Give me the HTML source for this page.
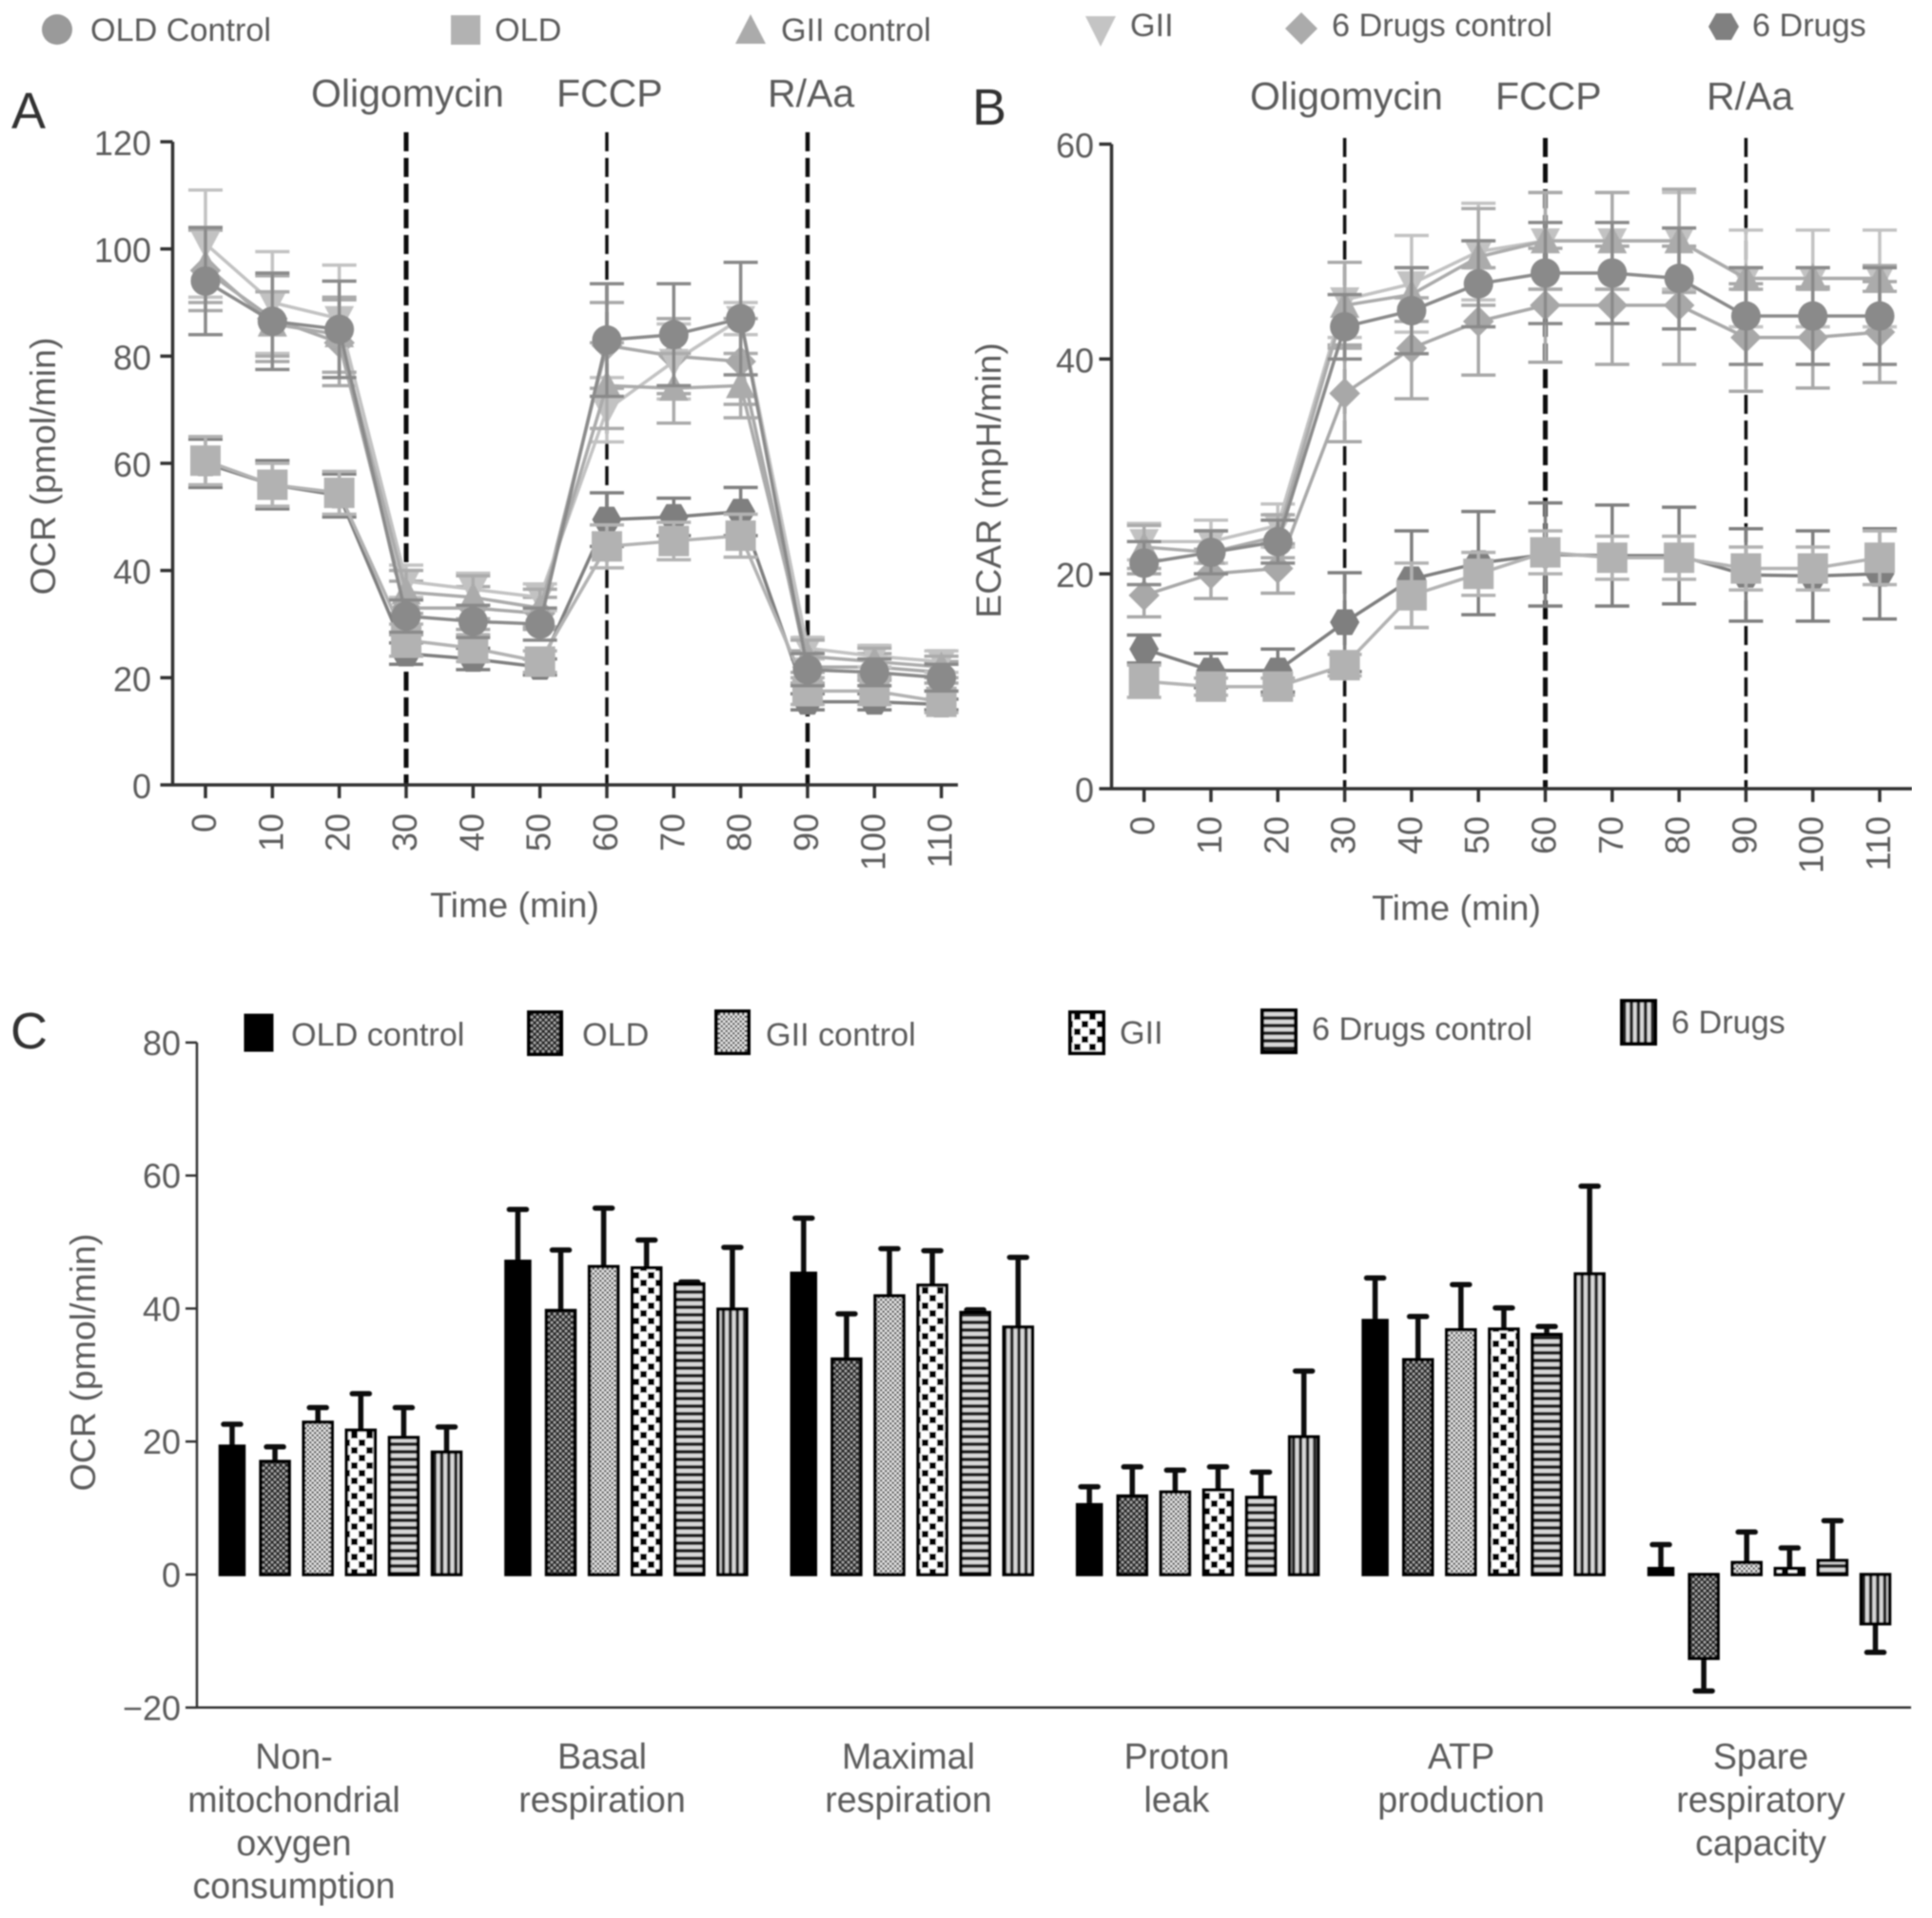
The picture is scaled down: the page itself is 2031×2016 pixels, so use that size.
<!DOCTYPE html>
<html lang="en">
<head>
<meta charset="utf-8">
<title>OCR and ECAR charts</title>
<style>
html,body{margin:0;padding:0;background:#fff}
svg{display:block}
text{font-family:"Liberation Sans",sans-serif;fill:#5c5c5c}
</style>
</head>
<body>
<svg id="figure" xmlns="http://www.w3.org/2000/svg" width="2031" height="2016" viewBox="0 0 2031 2016">
<defs>
<filter id="soft" x="0" y="0" width="100%" height="100%"><feGaussianBlur stdDeviation="0.75"/></filter>
<pattern id="p-old" width="6" height="6" patternUnits="userSpaceOnUse"><rect width="6" height="6" fill="#2c2c2c"/><rect x="0" y="0" width="2.2" height="2.2" fill="#b5b5b5"/><rect x="3" y="3" width="2.2" height="2.2" fill="#b5b5b5"/></pattern>
<pattern id="p-giic" width="5" height="5" patternUnits="userSpaceOnUse"><rect width="5" height="5" fill="#e8e8e8"/><rect x="0" y="0" width="2.4" height="2.4" fill="#505050"/><rect x="2.5" y="2.5" width="2.4" height="2.4" fill="#505050"/></pattern>
<pattern id="p-gii" width="16" height="16" patternUnits="userSpaceOnUse"><rect width="16" height="16" fill="#fff"/><rect x="1" y="1" width="7" height="7" fill="#000"/><rect x="9" y="9" width="7" height="7" fill="#000"/></pattern>
<pattern id="p-sixc" width="8" height="8" patternUnits="userSpaceOnUse"><rect width="8" height="8" fill="#d8d8d8"/><rect y="4" width="8" height="4" fill="#222"/></pattern>
<pattern id="p-six" width="7.4" height="8" patternUnits="userSpaceOnUse"><rect width="7.4" height="8" fill="#d8d8d8"/><rect x="3.8" width="3.6" height="8" fill="#222"/></pattern>
</defs>
<g id="root" filter="url(#soft)">
  <g font-size="34.2">
    <circle cx="60" cy="31" r="16" fill="#9a9a9a"/>
    <text x="95" y="43">OLD Control</text>
    <rect x="474" y="16" width="31" height="31" fill="#b2b2b2"/>
    <text x="520" y="43">OLD</text>
    <polygon points="793,15 809,46 777,46" fill="#ababab" transform="translate(-4,0)"/>
    <text x="821" y="43">GII control</text>
    <polygon points="1147,17 1179,17 1163,49" fill="#c4c4c4" transform="translate(-6,0)"/>
    <text x="1188" y="38">GII</text>
    <polygon points="1368,13 1385,30 1368,47 1351,30" fill="#ababab"/>
    <text x="1400" y="38">6 Drugs control</text>
    <polygon points="1796,28 1804,14 1820,14 1828,28 1820,42 1804,42" fill="#808080"/>
    <text x="1842" y="38">6 Drugs</text>
  </g>
  <g font-size="54">
    <text x="12" y="135" style="fill:#333">A</text>
    <text x="1022" y="131" style="fill:#333">B</text>
    <text x="11" y="1102" style="fill:#333">C</text>
  </g>
  <g font-size="41">
    <text x="327" y="112">Oligomycin</text>
    <text x="585" y="112">FCCP</text>
    <text x="807" y="112">R/Aa</text>
  </g>
  <g font-size="41">
    <text x="1314" y="115">Oligomycin</text>
    <text x="1572" y="115">FCCP</text>
    <text x="1794" y="115">R/Aa</text>
  </g>
  <text x="541" y="964" font-size="37.5" text-anchor="middle">Time (min)</text>
  <text x="1531" y="967" font-size="37.5" text-anchor="middle">Time (min)</text>
  <text transform="translate(58,490) rotate(-90)" font-size="37.5" text-anchor="middle">OCR (pmol/min)</text>
  <text transform="translate(1052,505) rotate(-90)" font-size="37.5" text-anchor="middle">ECAR (mpH/min)</text>
  <text transform="translate(100,1432) rotate(-90)" font-size="37.5" text-anchor="middle">OCR (pmol/min)</text>
  <g font-size="34.2">
    <rect x="258" y="1067" width="28" height="37" fill="#000" stroke="#000" stroke-width="3"/>
    <text x="306" y="1099">OLD control</text>
    <rect x="556" y="1064" width="34" height="44" fill="url(#p-old)" stroke="#000" stroke-width="4"/>
    <text x="612" y="1099">OLD</text>
    <rect x="753" y="1063" width="34" height="44" fill="url(#p-giic)" stroke="#000" stroke-width="4"/>
    <text x="805" y="1099">GII control</text>
    <rect x="1125" y="1064" width="35" height="43" fill="url(#p-gii)" stroke="#000" stroke-width="4"/>
    <text x="1177" y="1097">GII</text>
    <rect x="1327" y="1062" width="35" height="44" fill="url(#p-sixc)" stroke="#000" stroke-width="4"/>
    <text x="1379" y="1093">6 Drugs control</text>
    <rect x="1705" y="1052" width="35" height="45" fill="url(#p-six)" stroke="#000" stroke-width="4"/>
    <text x="1757" y="1086">6 Drugs</text>
  </g>
  <g id="panel-a"></g>
  <g id="panel-b"></g>
  <g id="panel-c"></g>
</g>
</svg>
<script>
const timeTicks = [0, 10, 20, 30, 40, 50, 60, 70, 80, 90, 100, 110];
const treatmentTimes = [30, 60, 90];
const seriesNames = ['6-drugs-control', 'gii', 'gii-control', '6-drugs', 'old', 'old-control'];
const seriesShapes = ['diamond', 'down', 'up', 'hex', 'square', 'circle'];
const seriesColors = ['#a8a8a8', '#c2c2c2', '#ababab', '#7f7f7f', '#b2b2b2', '#8a8a8a'];

const ocrTicks = [0, 20, 40, 60, 80, 100, 120];
const ocrDiamond = [96, 87, 82.5, 33, 33, 32, 82, 80, 79, 22, 22, 21];
const ocrDown = [101, 90, 87, 38, 36.5, 35, 70, 79, 87, 25.5, 24, 23];
const ocrUp = [97, 86, 84, 36, 35, 33, 74.5, 74, 74.5, 24, 23, 22];
const ocrHex = [60, 56, 54, 24.5, 23.5, 22, 49.5, 50, 51, 15.5, 15.5, 15];
const ocrSquare = [60.5, 56, 54.5, 27, 25.5, 23, 44.5, 45.5, 46.5, 17.5, 17.5, 15.5];
const ocrCircle = [94, 86.5, 85, 31.5, 30.5, 30, 83, 84, 87, 21.5, 21, 20];
const ocrErrDiamond = [7.5, 8, 8, 5, 4, 3, 8, 7, 8, 3, 2.5, 2];
const ocrErrDown = [10, 9.5, 10, 3, 3, 2.5, 6, 7, 3, 2, 2, 2];
const ocrErrUp = [7, 6, 7, 4, 4, 3.5, 8, 6.5, 6, 3, 2.5, 2];
const ocrErrHex = [4.5, 4.5, 4, 2, 2, 1.5, 5, 3.5, 4.5, 1.5, 1.5, 1];
const ocrErrSquare = [4.5, 4, 4, 3, 2.5, 2, 4, 3.5, 4, 2.5, 2.5, 2];
const ocrErrCircle = [10, 9, 9, 3, 3, 3, 10.5, 9.5, 10.5, 3, 2.5, 2.5];

const ecarTicks = [0, 20, 40, 60];
const ecarDiamond = [18, 20, 20.5, 36.8, 41, 43.5, 45, 45, 45, 42, 42, 42.5];
const ecarDown = [23, 23, 24.5, 45.5, 47, 50, 51, 51, 51, 47.5, 47.5, 47.5];
const ecarUp = [22.5, 22, 23.5, 45, 46, 49.5, 51, 51, 51, 47.5, 47.5, 47.5];
const ecarHex = [13, 11, 11, 15.5, 19.5, 21, 21.8, 21.7, 21.7, 19.9, 19.8, 20];
const ecarSquare = [10, 9.5, 9.5, 11.5, 18, 20, 22, 21.5, 21.5, 20.5, 20.5, 21.5];
const ecarCircle = [21, 22, 23, 43, 44.5, 47, 48, 48, 47.5, 44, 44, 44];
const ecarErrDiamond = [2, 2.3, 2.3, 4.5, 4.7, 5, 5.3, 5.5, 5.5, 5, 4.7, 4.7];
const ecarErrDown = [1.7, 2, 2, 3.5, 4.5, 4.5, 4.5, 4.5, 4.5, 4.5, 4.5, 4.5];
const ecarErrUp = [2, 2, 2, 4, 2.5, 4.5, 4.5, 4.5, 4.8, 1, 1, 1.2];
const ecarErrHex = [1.3, 1.6, 2, 4.6, 4.5, 4.8, 4.8, 4.7, 4.5, 4.3, 4.2, 4.2];
const ecarErrSquare = [1.5, 0.8, 0.8, 1, 3, 2, 2, 2, 2, 2, 2, 2.5];
const ecarErrCircle = [2, 2, 2, 3, 4, 4, 4.7, 4.7, 4.7, 4.5, 4.5, 4.5];

const barTicks = [-20, 0, 20, 40, 60, 80];
const barGroups = ['non-mitochondrial', 'basal', 'maximal', 'proton-leak', 'atp-production', 'spare-capacity'];
const barSeries = ['old-control', 'old', 'gii-control', 'gii', '6-drugs-control', '6-drugs'];
const barFills = ['#000', 'url(#p-old)', 'url(#p-giic)', 'url(#p-gii)', 'url(#p-sixc)', 'url(#p-six)'];
const nonMitoValues = [19.3, 17, 22.9, 21.7, 20.6, 18.4];
const basalValues = [47.1, 39.7, 46.3, 46.1, 43.7, 39.9];
const maximalValues = [45.3, 32.4, 41.9, 43.5, 39.4, 37.2];
const protonValues = [10.5, 11.8, 12.4, 12.7, 11.6, 20.7];
const atpValues = [38.2, 32.3, 36.8, 36.9, 36.1, 45.2];
const spareValues = [0.9, -12.6, 1.8, 0.9, 2.1, -7.4];
const nonMitoErrEnds = [22.6, 19.2, 25.1, 27.2, 25.1, 22.2];
const basalErrEnds = [54.9, 48.8, 55.1, 50.3, 44, 49.2];
const maximalErrEnds = [53.6, 39.2, 49, 48.7, 39.8, 47.7];
const protonErrEnds = [13.2, 16.2, 15.7, 16.2, 15.4, 30.6];
const atpErrEnds = [44.6, 38.8, 43.6, 40.1, 37.3, 58.4];
const spareErrEnds = [4.5, -17.5, 6.4, 4, 8.1, -11.7];
const categoryLine1 = ['Non-', 'Basal', 'Maximal', 'Proton', 'ATP', 'Spare'];
const categoryLine2 = ['mitochondrial', 'respiration', 'respiration', 'leak', 'production', 'respiratory'];
const categoryLine3 = ['oxygen', '', '', '', '', 'capacity'];
const categoryLine4 = ['consumption', '', '', '', '', ''];

const ocrValues = [ocrDiamond, ocrDown, ocrUp, ocrHex, ocrSquare, ocrCircle];
const ocrErrors = [ocrErrDiamond, ocrErrDown, ocrErrUp, ocrErrHex, ocrErrSquare, ocrErrCircle];
const ecarValues = [ecarDiamond, ecarDown, ecarUp, ecarHex, ecarSquare, ecarCircle];
const ecarErrors = [ecarErrDiamond, ecarErrDown, ecarErrUp, ecarErrHex, ecarErrSquare, ecarErrCircle];
const barValues = [nonMitoValues, basalValues, maximalValues, protonValues, atpValues, spareValues];
const barErrEnds = [nonMitoErrEnds, basalErrEnds, maximalErrEnds, protonErrEnds, atpErrEnds, spareErrEnds];

const NS = 'http://www.w3.org/2000/svg';
function make(tag, parent, attrs) {
  const n = document.createElementNS(NS, tag);
  for (const k in attrs) n.setAttribute(k, attrs[k]);
  parent.appendChild(n);
  return n;
}
function markerPoints(shape, x, y, s) {
  if (shape === 'up') return [[x, y - s * 1.05], [x + s, y + s * 0.85], [x - s, y + s * 0.85]];
  if (shape === 'down') return [[x - s, y - s * 0.85], [x + s, y - s * 0.85], [x, y + s * 1.05]];
  if (shape === 'diamond') return [[x, y - s * 1.05], [x + s * 1.05, y], [x, y + s * 1.05], [x - s * 1.05, y]];
  if (shape === 'hex') return [[x - s, y], [x - s / 2, y - s * 0.87], [x + s / 2, y - s * 0.87], [x + s, y], [x + s / 2, y + s * 0.87], [x - s / 2, y + s * 0.87]];
  return [];
}
function drawLinePanel(cfg) {
  const root = document.getElementById(cfg.id);
  const sx = t => cfg.x0 + (t / 110) * (cfg.x110 - cfg.x0);
  const sy = v => cfg.y0 - (v / cfg.yMax) * (cfg.y0 - cfg.yTop);
  const ink = '#333';

  cfg.treatments.forEach((t, i) => {
    const d = make('line', root, { x1: sx(t), x2: sx(t), y1: cfg.dashTop, y2: cfg.y0, stroke: '#111', 'stroke-width': cfg.dashWidths[i], 'stroke-dasharray': '20 7' });
    
    
  });

  seriesNames.forEach((name, si) => {
    const g = make('g', root, {});
    
    
    const color = seriesColors[si];
    const vals = cfg.values[si];
    const errs = cfg.errors[si];
    timeTicks.forEach((t, i) => {
      const x = sx(t), hi = sy(vals[i] + errs[i]), lo = sy(vals[i] - errs[i]);
      const e = make('path', g, { d: 'M' + x + ' ' + hi + 'V' + lo + 'M' + (x - 18) + ' ' + hi + 'H' + (x + 18) + 'M' + (x - 18) + ' ' + lo + 'H' + (x + 18), stroke: color, 'stroke-width': 3.5, fill: 'none' });
      
      
    });
    const line = make('polyline', g, { points: timeTicks.map((t, i) => sx(t) + ',' + sy(vals[i])).join(' '), fill: 'none', stroke: color, 'stroke-width': 3.5 });
    
    
    timeTicks.forEach((t, i) => {
      const x = sx(t), y = sy(vals[i]), shape = seriesShapes[si];
      let m;
      if (shape === 'circle') m = make('circle', g, { cx: x, cy: y, r: 15.5, fill: color });
      else if (shape === 'square') m = make('rect', g, { x: x - 16, y: y - 16, width: 32, height: 32, fill: color });
      else m = make('polygon', g, { points: markerPoints(shape, x, y, 15.5).map(p => p.join(',')).join(' '), fill: color });
      
      
    });
  });

  const axes = make('path', root, { d: 'M' + cfg.axisX + ' ' + cfg.yTop + 'V' + cfg.y0 + 'M' + cfg.axisX + ' ' + cfg.y0 + 'H' + cfg.axisEnd, stroke: ink, 'stroke-width': 3.5, fill: 'none' });
  
  

  cfg.yTicks.forEach(v => {
    const y = sy(v);
    const tk = make('line', root, { x1: cfg.axisX - 13, x2: cfg.axisX, y1: y, y2: y, stroke: ink, 'stroke-width': 3.5 });
    
    
    const lb = make('text', root, { x: cfg.yLabelX, y: y + 14, 'font-size': 36, 'text-anchor': 'end' });
    lb.textContent = String(v);
    
    
  });
  timeTicks.forEach(t => {
    const x = sx(t);
    const tk = make('line', root, { x1: x, x2: x, y1: cfg.y0, y2: cfg.y0 + 14, stroke: ink, 'stroke-width': 3.5 });
    
    
    const lb = make('text', root, { transform: 'translate(' + (x + 11) + ',' + cfg.xLabelY + ') rotate(-90)', 'font-size': 36, 'text-anchor': 'end' });
    lb.textContent = String(t);
    
    
  });
}
drawLinePanel({ id: 'panel-a', x0: 216, x110: 989.6, y0: 825, yTop: 149, yMax: 120, axisX: 181.5, axisEnd: 1007, yLabelX: 159, xLabelY: 855, dashTop: 139, dashWidths: [5, 3.5, 4.5], yTicks: ocrTicks, treatments: treatmentTimes, values: ocrValues, errors: ocrErrors });
drawLinePanel({ id: 'panel-b', x0: 1202.7, x110: 1976, y0: 829, yTop: 151.5, yMax: 60, axisX: 1168.5, axisEnd: 2010, yLabelX: 1150, xLabelY: 858, dashTop: 145, dashWidths: [3.5, 5, 3.5], yTicks: ecarTicks, treatments: treatmentTimes, values: ecarValues, errors: ecarErrors });

(function drawBars() {
  const root = document.getElementById('panel-c');
  const sy = v => 1655 - v * 6.99;
  const gx = (g, i) => 244 + g * 300.4 + i * 45.1;
  const ink = '#333';
  const axes = make('path', root, { d: 'M207 ' + sy(80) + 'V' + sy(-20) + 'H2009', stroke: ink, 'stroke-width': 2.5, fill: 'none' });
  
  
  barTicks.forEach(v => {
    const y = sy(v);
    const tk = make('line', root, { x1: 195, x2: 207, y1: y, y2: y, stroke: ink, 'stroke-width': 2.5 });
    
    
    const lb = make('text', root, { x: 190, y: y + 13, 'font-size': 36, 'text-anchor': 'end' });
    lb.textContent = v < 0 ? '\u2212' + Math.abs(v) : String(v);
    
    
  });
  barGroups.forEach((group, g) => {
    barSeries.forEach((series, i) => {
      const x = gx(g, i), v = barValues[g][i], end = barErrEnds[g][i];
      const err = make('path', root, { d: 'M' + x + ' ' + sy(v) + 'V' + sy(end) + 'M' + (x - 9) + ' ' + sy(end) + 'H' + (x + 9), stroke: '#111', 'stroke-width': 5.5, 'stroke-linecap': 'round', fill: 'none' });
      
      
      const w = i === 0 ? 25 : 30;
      const bar = make('rect', root, { x: x - w / 2, y: Math.min(sy(v), sy(0)), width: w, height: Math.abs(sy(v) - sy(0)), fill: barFills[i], stroke: '#000', 'stroke-width': 3.5 });
      
      
    });
  });
  const centers = [309, 633, 955, 1237, 1536, 1851];
  const lines = [categoryLine1, categoryLine2, categoryLine3, categoryLine4];
  barGroups.forEach((group, g) => {
    lines.forEach((row, r) => {
      if (!row[g]) return;
      const t = make('text', root, { x: centers[g], y: 1859 + r * 45.4, 'font-size': 37.6, 'text-anchor': 'middle' });
      t.textContent = row[g];
      
      
    });
  });
})();
</script>
</body>
</html>
